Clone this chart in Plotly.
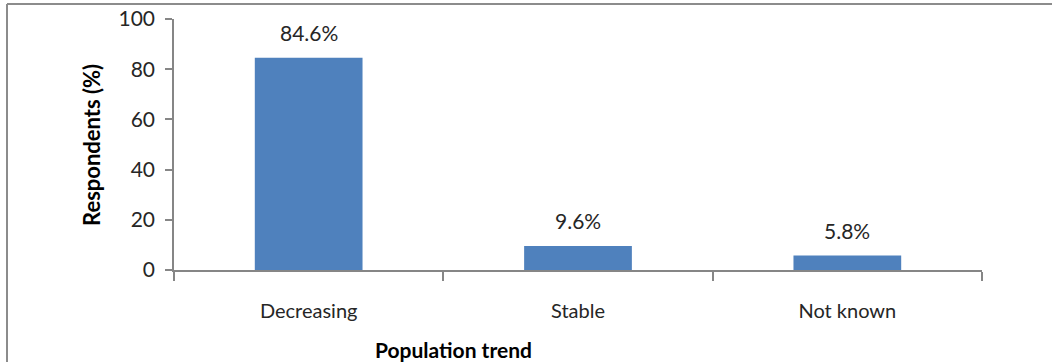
import plotly.graph_objects as go

# Survey responses on perceived population trend
categories = ["Decreasing", "Stable", "Not known"]
respondents_pct = [84.6, 9.6, 5.8]
y_ticks = [0, 20, 40, 60, 80, 100]

W, H = 1052, 362
L, R, T, B = 174, 70, 19, 92
AXIS = "#868686"
FONT = "Lato"
TEXT = "#262626"

plot_w = W - L - R
plot_h = H - T - B


def px_x(x):
    return (x - L) / plot_w


def px_y(y):
    return (H - B - y) / plot_h


fig = go.Figure(
    go.Bar(
        x=categories,
        y=respondents_pct,
        marker=dict(color="#4F81BD", line=dict(width=0)),
        hoverinfo="skip",
    )
)

for cat, val in zip(categories, respondents_pct):
    fig.add_annotation(
        x=cat, y=val, text=f"{val:.1f}%", showarrow=False,
        yshift=25, yanchor="middle",
        font=dict(family=FONT, size=21, color=TEXT),
    )

# axis titles
fig.add_annotation(
    xref="paper", yref="paper", x=px_x(453), y=px_y(349),
    text="<b>Population trend</b>", showarrow=False,
    xanchor="center", yanchor="middle",
    font=dict(family=FONT, size=21, color="#000000"),
)
fig.add_annotation(
    xref="paper", yref="paper", x=px_x(91), y=px_y(145),
    text="<b>Respondents (%)</b>", showarrow=False, textangle=-90,
    xanchor="center", yanchor="middle",
    font=dict(family=FONT, size=22, color="#000000"),
)

# frame lines along the top and left of the chart area
frame = dict(color="#8c8c8c", width=2)
fig.add_shape(type="line", xref="paper", yref="paper",
              x0=px_x(7), x1=px_x(W + 5), y0=px_y(4), y1=px_y(4), line=frame)
fig.add_shape(type="line", xref="paper", yref="paper",
              x0=px_x(7), x1=px_x(7), y0=px_y(4), y1=px_y(H + 5), line=frame)

fig.update_layout(
    width=W, height=H,
    margin=dict(l=L, r=R, t=T, b=B, pad=0, autoexpand=False),
    paper_bgcolor="white", plot_bgcolor="white",
    bargap=0.6, showlegend=False,
    font=dict(family=FONT, size=20, color=TEXT),
    xaxis=dict(
        showline=True, linecolor=AXIS, linewidth=1.5,
        ticks="outside", tickson="boundaries", ticklen=9,
        tickcolor=AXIS, tickwidth=1.5, ticklabelstandoff=22,
        showgrid=False, zeroline=False, automargin=False,
        tickfont=dict(family=FONT, size=20, color=TEXT),
    ),
    yaxis=dict(
        range=[0, 100], tickvals=y_ticks,
        showline=True, linecolor=AXIS, linewidth=1.5,
        ticks="outside", ticklen=7, tickcolor=AXIS, tickwidth=1.5,
        ticklabelstandoff=6, automargin=False,
        showgrid=False, zeroline=False,
        tickfont=dict(family=FONT, size=21, color=TEXT),
    ),
)

fig.write_html("out.html")
